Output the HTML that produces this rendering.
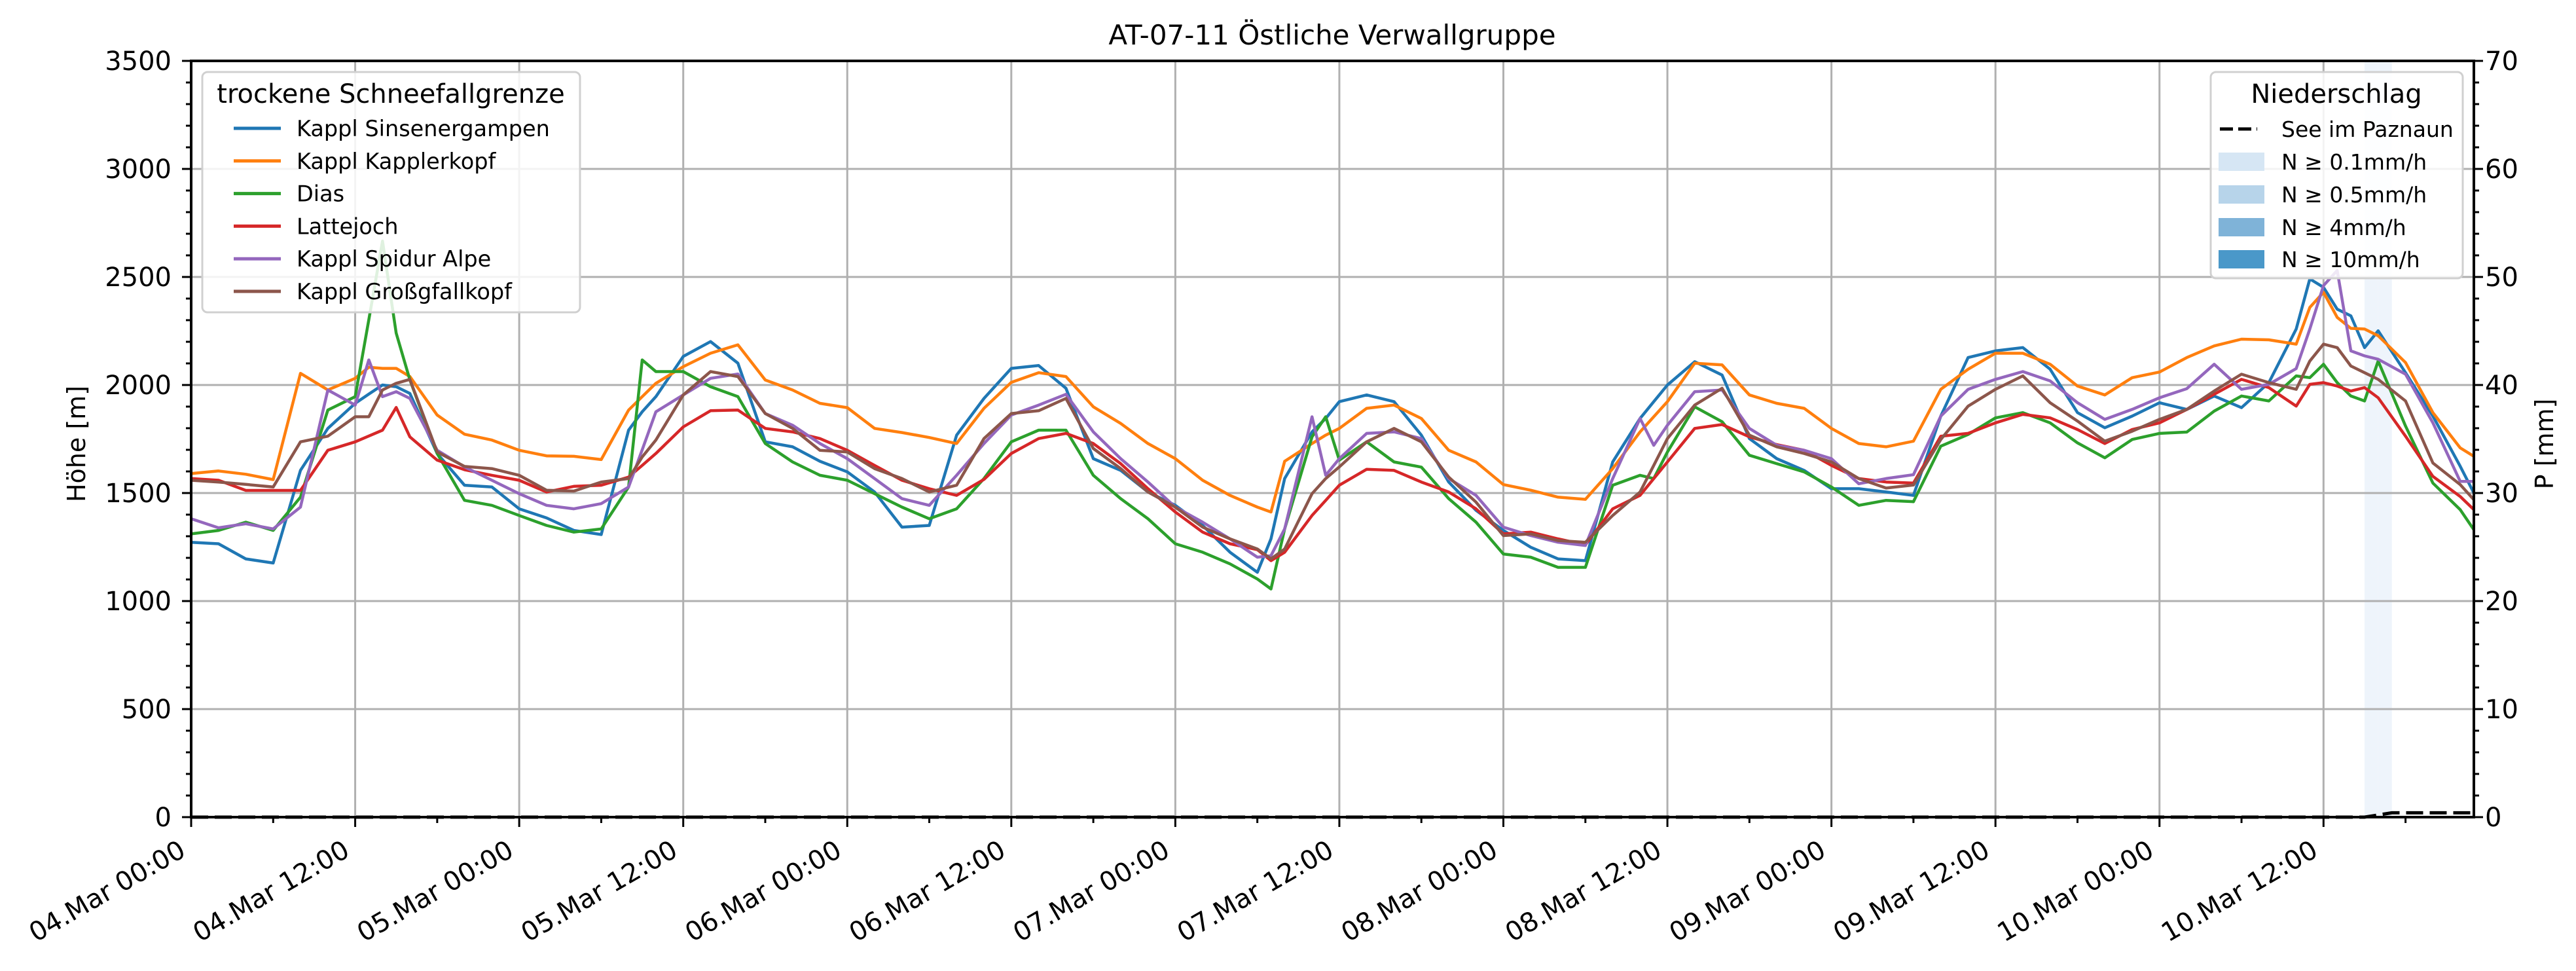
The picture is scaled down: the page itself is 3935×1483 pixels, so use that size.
<!DOCTYPE html>
<html><head><meta charset="utf-8"><style>
html,body{margin:0;padding:0;background:#fff;}
svg{display:block;font-family:"DejaVu Sans","Liberation Sans",sans-serif;}
</style></head><body>
<svg id="chart" width="3935" height="1483" viewBox="0 0 3935 1483" xmlns="http://www.w3.org/2000/svg">
<rect x="0" y="0" width="3935" height="1483" fill="#fff"/>
<g id="bands"></g>
<g id="grid"></g>
<g id="series"></g>
<g id="precip"></g>
<g id="axes"></g>
<text x="2035" y="68" font-size="42" text-anchor="middle">AT-07-11 Östliche Verwallgruppe</text>
<text transform="translate(130,678) rotate(-90)" font-size="38" text-anchor="middle">Höhe [m]</text>
<text transform="translate(3900,678) rotate(-90)" font-size="38" text-anchor="middle">P [mm]</text>
<g id="legend1">
<rect x="309" y="110" width="577" height="367" rx="8" fill="#fff" fill-opacity="0.85" stroke="#d0d0d0" stroke-width="3"/>
<text x="597" y="157" font-size="40" text-anchor="middle">trockene Schneefallgrenze</text>
</g>
<g id="legend2">
<rect x="3377" y="110" width="385" height="315" rx="8" fill="#fff" fill-opacity="0.85" stroke="#d0d0d0" stroke-width="3"/>
<text x="3569" y="157" font-size="40" text-anchor="middle">Niederschlag</text>
<line x1="3391" y1="197" x2="3448" y2="197" stroke="#000" stroke-width="5" stroke-dasharray="20,8"/>
<text x="3485" y="209" font-size="33">See im Paznaun</text>
<rect x="3389" y="233" width="70" height="28" fill="#d6e6f4"/>
<text x="3485" y="259" font-size="33">N ≥ 0.1mm/h</text>
<rect x="3389" y="283" width="70" height="28" fill="#b7d4ea"/>
<text x="3485" y="309" font-size="33">N ≥ 0.5mm/h</text>
<rect x="3389" y="333" width="70" height="28" fill="#7fb3d8"/>
<text x="3485" y="359" font-size="33">N ≥ 4mm/h</text>
<rect x="3389" y="382" width="70" height="28" fill="#4a98c9"/>
<text x="3485" y="408" font-size="33">N ≥ 10mm/h</text>
</g>
</svg>
<script>
const hours = [0,2,4,6,8,10,12,13,14,15,16,18,20,22,24,26,28,30,32,33,34,36,38,40,42,44,46,48,50,52,54,56,58,60,62,64,66,68,70,72,74,76,78,79,80,82,83,84,86,88,90,92,94,96,98,100,102,104,106,107,108,110,112,114,116,118,120,122,124,126,128,130,132,134,136,138,140,142,144,146,148,150,152,154,155,156,157,158,159,160,162,164,166,167];
const sinsenergampen = [1272,1265,1195,1176,1605,1799,1915,1958,2000,1992,1961,1683,1536,1528,1427,1385,1327,1308,1791,1876,1946,2132,2201,2101,1737,1714,1647,1598,1505,1342,1350,1768,1938,2077,2090,1985,1659,1605,1505,1443,1350,1226,1133,1288,1567,1783,1845,1923,1954,1923,1768,1551,1420,1327,1249,1195,1187,1644,1845,1923,2000,2108,2046,1752,1659,1605,1520,1520,1505,1489,1856,2127,2158,2173,2073,1872,1802,1856,1918,1887,1949,1895,2011,2259,2491,2452,2351,2320,2173,2251,2057,1856,1624,1500];
const kapplerkopf = [1590,1602,1587,1562,2054,1977,2031,2082,2077,2077,2039,1861,1772,1745,1698,1672,1670,1655,1884,1946,2008,2085,2147,2186,2023,1977,1915,1895,1799,1780,1757,1729,1892,2012,2057,2039,1899,1822,1729,1659,1559,1489,1435,1412,1647,1729,1768,1799,1892,1907,1845,1698,1644,1539,1513,1481,1471,1613,1783,1853,1923,2101,2093,1954,1915,1892,1799,1729,1714,1740,1980,2073,2147,2147,2096,1995,1954,2034,2060,2127,2181,2212,2209,2189,2359,2429,2313,2262,2259,2228,2104,1872,1709,1670];
const dias = [1311,1327,1365,1327,1481,1884,1946,2302,2666,2240,2024,1683,1466,1443,1396,1350,1319,1334,1528,2116,2062,2062,1992,1946,1729,1644,1582,1559,1497,1435,1381,1427,1567,1737,1791,1791,1582,1474,1381,1265,1226,1172,1102,1056,1334,1760,1853,1652,1737,1644,1620,1474,1365,1218,1203,1156,1156,1536,1582,1567,1690,1899,1830,1675,1636,1598,1528,1443,1466,1460,1717,1771,1848,1872,1825,1732,1663,1748,1776,1782,1879,1949,1926,2042,2034,2096,2011,1949,1926,2111,1810,1546,1423,1330];
const lattejoch = [1567,1559,1512,1512,1512,1698,1737,1764,1791,1896,1760,1652,1608,1582,1559,1505,1531,1536,1574,1628,1683,1806,1881,1884,1799,1783,1752,1698,1628,1559,1520,1489,1563,1683,1752,1776,1729,1636,1520,1412,1319,1265,1238,1187,1226,1396,1466,1536,1610,1605,1551,1505,1427,1311,1319,1288,1260,1427,1489,1567,1644,1799,1817,1760,1724,1698,1628,1567,1551,1546,1763,1776,1825,1864,1848,1794,1729,1794,1825,1887,1957,2026,1988,1902,2003,2011,1995,1972,1988,1941,1763,1577,1484,1423];
const spidurAlpe = [1381,1339,1358,1334,1435,1977,1907,2116,1946,1969,1938,1698,1621,1559,1497,1443,1427,1451,1528,1700,1876,1954,2031,2051,1868,1814,1729,1659,1567,1474,1443,1582,1729,1861,1907,1957,1783,1659,1551,1435,1365,1288,1203,1210,1334,1853,1582,1659,1776,1783,1752,1567,1489,1342,1303,1272,1257,1567,1845,1721,1814,1969,1977,1799,1721,1698,1659,1543,1567,1585,1856,1980,2026,2062,2019,1918,1841,1887,1941,1983,2096,1980,2003,2076,2259,2460,2530,2158,2135,2119,2050,1825,1554,1554];
const grossgfallkopf = [1559,1551,1540,1528,1737,1763,1853,1853,1977,2008,2026,1690,1623,1613,1582,1513,1509,1551,1567,1667,1745,1954,2062,2039,1868,1799,1698,1690,1613,1567,1505,1536,1752,1868,1881,1938,1706,1613,1505,1435,1342,1288,1241,1195,1241,1497,1567,1621,1737,1799,1737,1574,1458,1303,1311,1280,1272,1396,1505,1628,1752,1907,1985,1768,1714,1683,1644,1567,1523,1537,1748,1902,1980,2042,1918,1833,1740,1786,1841,1887,1972,2050,2011,1980,2111,2189,2173,2088,2057,2026,1926,1639,1539,1469];
const seriesNames = ["Kappl Sinsenergampen","Kappl Kapplerkopf","Dias","Lattejoch","Kappl Spidur Alpe","Kappl Großgfallkopf"];
const rainHours = [159,160];
const rainMm = [0.2,0.2];
const xTickLabels = ["04.Mar 00:00","04.Mar 12:00","05.Mar 00:00","05.Mar 12:00","06.Mar 00:00","06.Mar 12:00","07.Mar 00:00","07.Mar 12:00","08.Mar 00:00","08.Mar 12:00","09.Mar 00:00","09.Mar 12:00","10.Mar 00:00","10.Mar 12:00"];
const yTicks = [0,500,1000,1500,2000,2500,3000,3500];
const y2Ticks = [0,10,20,30,40,50,60,70];

const NS="http://www.w3.org/2000/svg";
const L=292,R=3779,T=93,B=1248,HMAX=167;
const X=h=>L+h*(R-L)/HMAX;
const Y=v=>B-v*(B-T)/3500;
const Y2=p=>B-p*(B-T)/70;
function mk(tag,attrs,parent){const e=document.createElementNS(NS,tag);for(const k in attrs)e.setAttribute(k,attrs[k]);parent.appendChild(e);return e;}
const gBands=document.getElementById('bands'),gGrid=document.getElementById('grid'),gSer=document.getElementById('series'),gPre=document.getElementById('precip'),gAx=document.getElementById('axes'),gLeg=document.getElementById('legend1');

rainHours.forEach((h,i)=>{
  const c = rainMm[i]>=10?'#4a98c9':rainMm[i]>=4?'#7fb3d8':rainMm[i]>=0.5?'#b7d4ea':'#eef4fb';
  const r=mk('rect',{x:X(h),y:T,width:X(h+1)-X(h),height:B-T,fill:c},gBands);
  
  
});
for(let i=0;i<xTickLabels.length;i++){
  const l=mk('line',{x1:X(i*12),x2:X(i*12),y1:T,y2:B,stroke:'#b0b0b0','stroke-width':3},gGrid);
  
  
}
yTicks.forEach(v=>{
  const l=mk('line',{x1:L,x2:R,y1:Y(v),y2:Y(v),stroke:'#b0b0b0','stroke-width':3},gGrid);
  
  
});
const data=[sinsenergampen,kapplerkopf,dias,lattejoch,spidurAlpe,grossgfallkopf];
const colors=['#1f77b4','#ff7f0e','#2ca02c','#d62728','#9467bd','#8c564b'];
const keys=['sinsenergampen','kapplerkopf','dias','lattejoch','spidur-alpe','grossgfallkopf'];
data.forEach((arr,si)=>{
  const pts=arr.map((v,i)=>X(hours[i]).toFixed(1)+','+Y(v).toFixed(1)).join(' ');
  const p=mk('polyline',{points:pts,fill:'none',stroke:colors[si],'stroke-width':4.5,'stroke-linejoin':'round'},gSer);
  
  
  const cy=196+si*49.8;
  const ll=mk('line',{x1:357,x2:429,y1:cy,y2:cy,stroke:colors[si],'stroke-width':5},gLeg);
  
  
  const t=mk('text',{x:453,y:cy+12,'font-size':33.5},gLeg);
  t.textContent=seriesNames[si];
});
let cum=[],acc=0;
for(let h=0;h<=HMAX;h++){ cum.push(X(h).toFixed(1)+','+Y2(acc).toFixed(1)); const k=rainHours.indexOf(h); if(k>=0) acc+=rainMm[k]; }
const pl=mk('polyline',{points:cum.join(' '),fill:'none',stroke:'#000','stroke-width':5,'stroke-dasharray':'26,10'},gPre);


mk('rect',{x:L,y:T,width:R-L,height:B-T,fill:'none',stroke:'#000','stroke-width':4},gAx);
for(let h=0;h<=HMAX;h+=6){
  const major=h%12===0;
  mk('line',{x1:X(h),x2:X(h),y1:B,y2:B+(major?15:9),stroke:'#000','stroke-width':3},gAx);
}
xTickLabels.forEach((s,i)=>{
  const x=X(i*12);
  const t=mk('text',{transform:`translate(${x-6},1306) rotate(-30)`,'font-size':40,'text-anchor':'end'},gAx);
  
  
  t.textContent=s;
});
for(let v=0;v<=3500;v+=100){
  const major=v%500===0;
  mk('line',{x1:L-(major?14:8),x2:L,y1:Y(v),y2:Y(v),stroke:'#000','stroke-width':3},gAx);
}
yTicks.forEach(v=>{
  const t=mk('text',{x:262,y:Y(v)+14,'font-size':40,'text-anchor':'end'},gAx);
  
  
  t.textContent=v;
});
for(let p=0;p<=70;p+=2){
  const major=p%10===0;
  mk('line',{x1:R,x2:R+(major?14:8),y1:Y2(p),y2:Y2(p),stroke:'#000','stroke-width':3},gAx);
}
y2Ticks.forEach(p=>{
  const t=mk('text',{x:3796,y:Y2(p)+14,'font-size':40,'text-anchor':'start'},gAx);
  
  
  t.textContent=p;
});
</script>
</body></html>
